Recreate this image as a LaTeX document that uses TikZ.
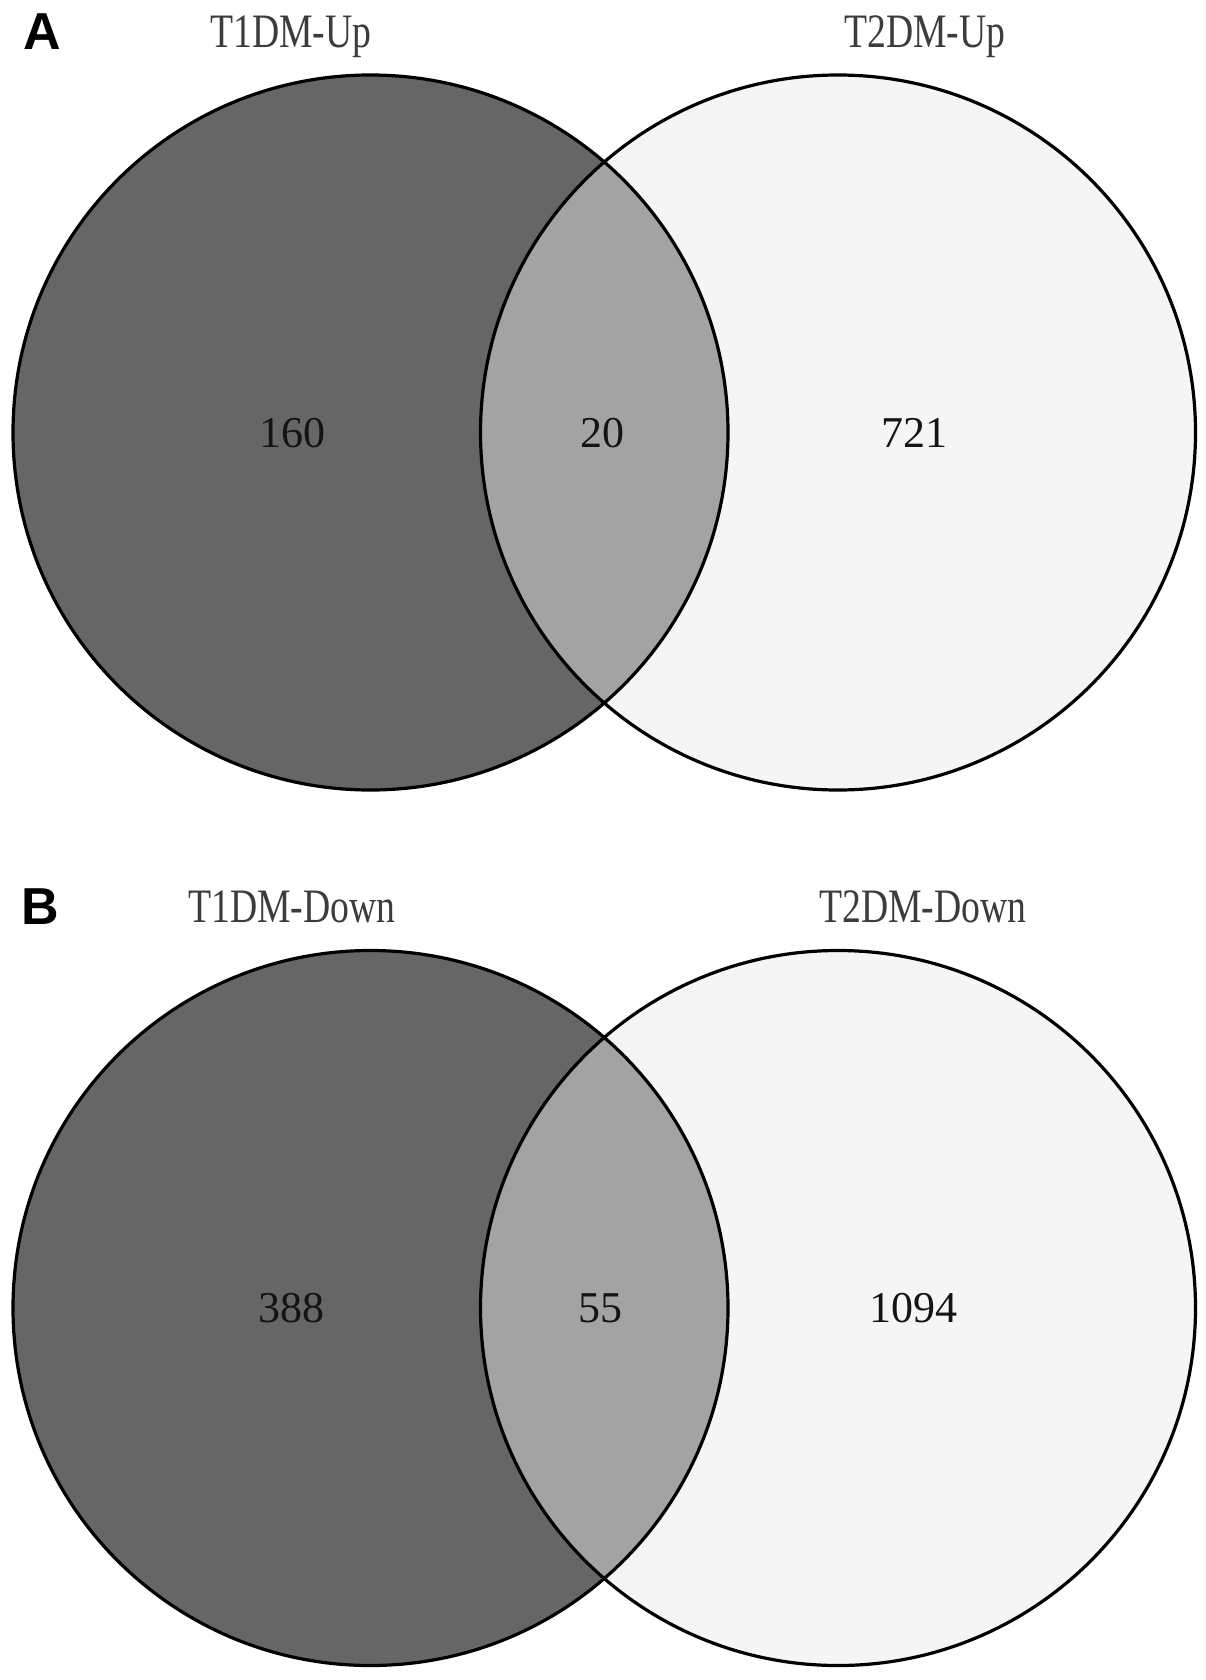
\documentclass[tikz,border=0pt]{standalone}
\usepackage{fontspec}
\setmainfont{Liberation Serif}
\newfontfamily\panelfont{Liberation Sans}
\definecolor{setdark}{HTML}{666666}
\definecolor{setmid}{HTML}{A3A3A3}
\definecolor{setlight}{HTML}{F5F5F5}
\definecolor{labelgray}{HTML}{3C3C3C}
\definecolor{numgray}{HTML}{141414}
\newcommand\venntitle[1]{\scalebox{0.785}[1]{#1}}
\tikzset{
  vset/.style={circle, minimum size=357.5pt, inner sep=0pt, draw=none},
  outline/.style={draw=black, line width=1.6pt},
  setlabel/.style={anchor=base, inner sep=0pt, text=labelgray, font=\fontsize{24pt}{24pt}\selectfont},
  setnum/.style={anchor=base, inner sep=0pt, text=numgray, font=\fontsize{22pt}{22pt}\selectfont},
  panel/.style={anchor=center, inner sep=0pt, font=\panelfont\bfseries\fontsize{26pt}{26pt}\selectfont}
}
\begin{document}
\begin{tikzpicture}[x=0.5pt,y=-0.5pt]
\useasboundingbox (0,0) rectangle (1205,1680);
\fill[white] (0,0) rectangle (1205,1680);

% ---------- Panel A ----------
\node[vset, fill=setdark] (LA) at (370.5,432.5) {};
\node[vset, fill=setlight] (RA) at (838,432.5) {};
\begin{scope}
  \clip (LA.center) circle[radius=178.75pt];
  \fill[setmid] (RA.center) circle[radius=178.75pt];
\end{scope}
\draw[outline] (LA.center) circle[radius=178.75pt];
\draw[outline] (RA.center) circle[radius=178.75pt];

\node[panel] (pA) at (42,32) {A};
\node[setlabel] (tA1) at (291,48) {\venntitle{T1DM-Up}};
\node[setlabel] (tA2) at (925,48) {\venntitle{T2DM-Up}};
\node[setnum] (nA1) at (292,447) {160};
\node[setnum] (nA2) at (602,447) {20};
\node[setnum] (nA3) at (914,447) {721};

% ---------- Panel B ----------
\node[vset, fill=setdark] (LB) at (370.5,1308) {};
\node[vset, fill=setlight] (RB) at (838,1308) {};
\begin{scope}
  \clip (LB.center) circle[radius=178.75pt];
  \fill[setmid] (RB.center) circle[radius=178.75pt];
\end{scope}
\draw[outline] (LB.center) circle[radius=178.75pt];
\draw[outline] (RB.center) circle[radius=178.75pt];

\node[panel] (pB) at (40,907) {B};
\node[setlabel] (tB1) at (292,922) {\venntitle{T1DM-Down}};
\node[setlabel] (tB2) at (923,922) {\venntitle{T2DM-Down}};
\node[setnum] (nB1) at (291,1322) {388};
\node[setnum] (nB2) at (600,1322) {55};
\node[setnum] (nB3) at (913,1322) {1094};
\end{tikzpicture}
\end{document}
